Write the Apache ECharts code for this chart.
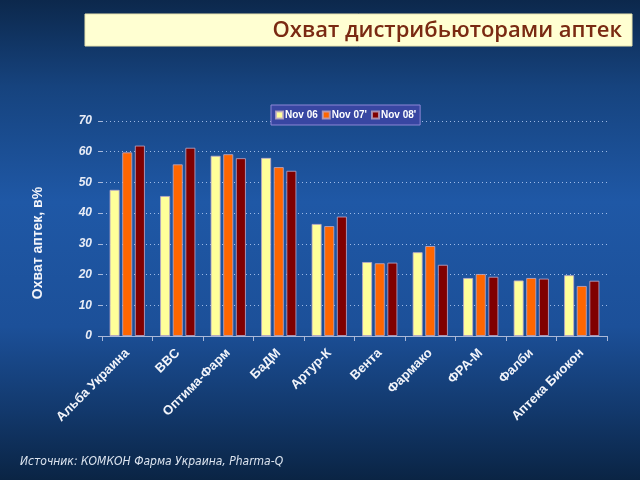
<!DOCTYPE html>
<html>
<head>
<meta charset="utf-8">
<script src="https://cdn.jsdelivr.net/npm/echarts@6/dist/echarts.min.js"></script>
<style>html,body{margin:0;padding:0;}#c{width:640px;height:480px;}</style>
</head>
<body>
<div id="c"></div>
<script>
const categories = ['Альба Украина','BBC','Оптима-Фарм','БаДМ','Артур-К','Вента','Фармако','ФРА-М','Фалби','Аптека Биокон'];
const seriesNames = ['Nov 06', "Nov 07'", "Nov 08'"];
const nov06 = [47.6, 45.6, 58.7, 58.0, 36.5, 24.1, 27.3, 18.9, 18.1, 19.8];
const nov07 = [59.8, 55.9, 59.2, 55.0, 35.8, 23.7, 29.3, 20.2, 18.9, 16.3];
const nov08 = [62.0, 61.3, 57.9, 53.8, 38.9, 23.9, 23.2, 19.3, 18.7, 18.0];
const yTicks = [0, 10, 20, 30, 40, 50, 60, 70];
const titleText = 'Охват дистрибьюторами аптек';
const yAxisName = 'Охват аптек, в%';
const sourceText = 'Источник: КОМКОН Фарма Украина, Pharma-Q';

const colors = ['#FFFF99', '#FF6600', '#800000'];
const seriesData = [nov06, nov07, nov08];

const chart = echarts.init(document.getElementById('c'), null, {renderer: 'canvas'});
chart.setOption({
  animation: false,
  backgroundColor: new echarts.graphic.LinearGradient(0, 0, 0, 1, [
    {offset: 0, color: '#0c284c'},
    {offset: 0.18, color: '#16437e'},
    {offset: 0.42, color: '#1f58a6'},
    {offset: 0.68, color: '#1c5099'},
    {offset: 0.86, color: '#12386b'},
    {offset: 1, color: '#0a2444'}
  ]),
  grid: {left: 102, right: 33, top: 121, bottom: 144, containLabel: false},
  legend: {
    data: seriesNames,
    left: 271, top: 105,
    itemWidth: 7, itemHeight: 7, itemGap: 4,
    padding: [5, 4, 5, 4],
    backgroundColor: '#3846a2',
    borderColor: '#8c86d6', borderWidth: 1,
    icon: 'rect',
    textStyle: {color: '#ffffff', fontWeight: 'bold', fontSize: 10, fontFamily: 'Liberation Sans', padding: [0, 0, 0, -3]}
  },
  xAxis: {
    type: 'category', data: categories,
    axisLine: {lineStyle: {color: '#aab8d8', width: 1}},
    axisTick: {show: true, length: 5, lineStyle: {color: '#aab8d8'}},
    axisLabel: {rotate: 45, color: '#f2f4fa', fontWeight: 'bold', fontSize: 13, fontFamily: 'Liberation Sans', margin: 15, interval: 0}
  },
  yAxis: {
    type: 'value', min: 0, max: 70, interval: 10,
    axisLine: {show: false},
    axisTick: {show: true, length: 4, lineStyle: {color: '#aab8d8'}},
    axisLabel: {color: '#e8ecf6', fontWeight: 'bold', fontStyle: 'italic', fontSize: 12, fontFamily: 'Liberation Sans', margin: 10,
      formatter: v => yTicks.includes(v) ? String(v) : ''},
    splitLine: {lineStyle: {color: 'rgba(200,220,255,0.75)', type: [1, 3], width: 1}}
  },
  series: seriesData.map((d, i) => ({
    name: seriesNames[i], type: 'bar', data: d,
    barCategoryGap: '30%', barGap: '25%',
    itemStyle: {color: colors[i], borderColor: 'rgba(190,170,200,0.8)', borderWidth: 1}
  })),
  graphic: [
    {type: 'rect', shape: {x: 85, y: 14, width: 547, height: 32},
      style: {fill: '#ffffd2', stroke: '#e8e4b0', lineWidth: 1}},
    {type: 'text', style: {x: 622, y: 31, text: titleText, align: 'right', verticalAlign: 'middle',
      fill: '#7a2a12', font: '600 22px "Open Sans"'}},
    {type: 'text', x: 38, y: 243, rotation: Math.PI / 2,
      style: {x: 0, y: 0, text: yAxisName, align: 'center', verticalAlign: 'middle',
      fill: '#f2f4fa', font: 'bold 14px "Liberation Sans"'}},
    {type: 'text', style: {x: 20, y: 462, text: sourceText, align: 'left', verticalAlign: 'middle',
      fill: '#dce4ef', font: 'italic 12px "DejaVu Sans Condensed"'}}
  ]
});
</script>
</body>
</html>
